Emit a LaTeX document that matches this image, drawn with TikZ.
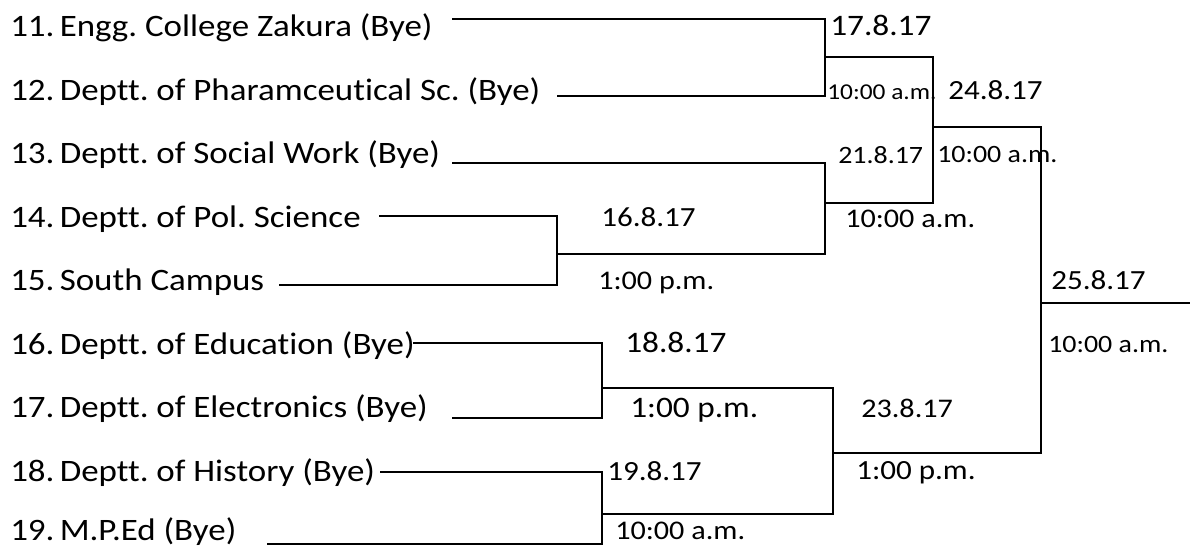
\documentclass[tikz,border=0pt]{standalone}
\usepackage{fontspec}
\newfontfamily\cf{Carlito}[FakeStretch=1.12,Ligatures=NoCommon]
\frenchspacing
\begin{document}
\begin{tikzpicture}[x=0.75pt,y=-0.75pt,
  team/.style={anchor=base west,inner sep=0pt,font=\cf\fontsize{23.4}{24}\selectfont},
  lbl/.style={anchor=base west,inner sep=0pt,font=\cf\fontsize{#1}{#1}\selectfont},
  wire/.style={line width=1.3pt,line join=miter}]
\useasboundingbox (0,0) rectangle (1190,548);
% team names
\node[team] (n11) at (10,37)    {11.}; \node[team] (t11) at (59.5,37)    {Engg. College Zakura (Bye)};
\node[team] (n12) at (10,100.5) {12.}; \node[team] (t12) at (59.5,100.5) {Deptt. of Pharamceutical Sc. (Bye)};
\node[team] (n13) at (10,164)   {13.}; \node[team] (t13) at (59.5,164)   {Deptt. of Social Work (Bye)};
\node[team] (n14) at (10,227.5) {14.}; \node[team] (t14) at (59.5,227.5) {Deptt. of Pol. Science};
\node[team] (n15) at (10,291)   {15.}; \node[team] (t15) at (59.5,291)   {South Campus};
\node[team] (n16) at (10,354.5) {16.}; \node[team] (t16) at (59.5,354.5) {Deptt. of Education (Bye)};
\node[team] (n17) at (10,418)   {17.}; \node[team] (t17) at (59.5,418)   {Deptt. of Electronics (Bye)};
\node[team] (n18) at (10,481.5) {18.}; \node[team] (t18) at (59.5,481.5) {Deptt. of History (Bye)};
\node[team] (n19) at (10,541)   {19.}; \node[team] (t19) at (59.5,541)   {M.P.Ed (Bye)};
% coordinates
\coordinate (s11) at (452,19.3); \coordinate (c11) at (825,19.3);
\coordinate (s12) at (557,96);   \coordinate (c12) at (825,96);
\coordinate (m1)  at (825,57);   \coordinate (m1e) at (933,57);
\coordinate (s13) at (452,163);  \coordinate (c13) at (825,163);
\coordinate (s14) at (379,216);  \coordinate (c14) at (557,216);
\coordinate (s15) at (279,285);  \coordinate (c15) at (557,285);
\coordinate (m4)  at (557,254);  \coordinate (m4e) at (825,254);
\coordinate (m3)  at (825,203);  \coordinate (m3e) at (933,203);
\coordinate (m5)  at (933,127);  \coordinate (m5e) at (1041,127);
\coordinate (s16) at (413,343);  \coordinate (c16) at (602,343);
\coordinate (s17) at (452,418);  \coordinate (c17) at (602,418);
\coordinate (m6)  at (602,388);  \coordinate (m6e) at (833,388);
\coordinate (s18) at (380,472);  \coordinate (c18) at (602,472);
\coordinate (s19) at (267,544);  \coordinate (c19) at (602,544);
\coordinate (m7)  at (602,514);  \coordinate (m7e) at (833,514);
\coordinate (m8)  at (833,453);  \coordinate (m8e) at (1041,453);
\coordinate (m9)  at (1041,303); \coordinate (m9e) at (1190,303);
% brackets
\draw[wire] (s11) -- (c11) -- (c12) -- (s12);
\draw[wire] (m1) -- (m1e) -- (m3e) -- (m3);
\draw[wire] (s13) -- (c13) -- (m4e) -- (m4);
\draw[wire] (s14) -- (c14) -- (c15) -- (s15);
\draw[wire] (m5) -- (m5e) -- (m8e) -- (m8);
\draw[wire] (s16) -- (c16) -- (c17) -- (s17);
\draw[wire] (m6) -- (m6e) -- (m7e) -- (m7);
\draw[wire] (s18) -- (c18) -- (c19) -- (s19);
\draw[wire] (m9) -- (m9e);
% match labels
\node[lbl=22.3] (d17) at (830,36)   {17.8.17};
\node[lbl=17]   (h17) at (827,100)  {10:00 a.m.};
\node[lbl=20.8] (d24) at (948,100)  {24.8.17};
\node[lbl=18.7] (d21) at (838,164)  {21.8.17};
\node[lbl=18.7] (h24) at (937,163)  {10:00 a.m.};
\node[lbl=20.2] (h21) at (845,228)  {10:00 a.m.};
\node[lbl=20.8] (d16) at (601,227)  {16.8.17};
\node[lbl=20.2] (h16) at (598,290)  {1:00 p.m.};
\node[lbl=22.3] (d18) at (625,353)  {18.8.17};
\node[lbl=22.3] (h18) at (630,418)  {1:00 p.m.};
\node[lbl=20.8] (d19) at (607,481)  {19.8.17};
\node[lbl=20.2] (h19) at (615,540)  {10:00 a.m.};
\node[lbl=20.2] (d23) at (861,418)  {23.8.17};
\node[lbl=20.8] (h23) at (856,480)  {1:00 p.m.};
\node[lbl=20.8] (d25) at (1051,290) {25.8.17};
\node[lbl=18.7] (h25) at (1048,353) {10:00 a.m.};
\end{tikzpicture}
\end{document}
